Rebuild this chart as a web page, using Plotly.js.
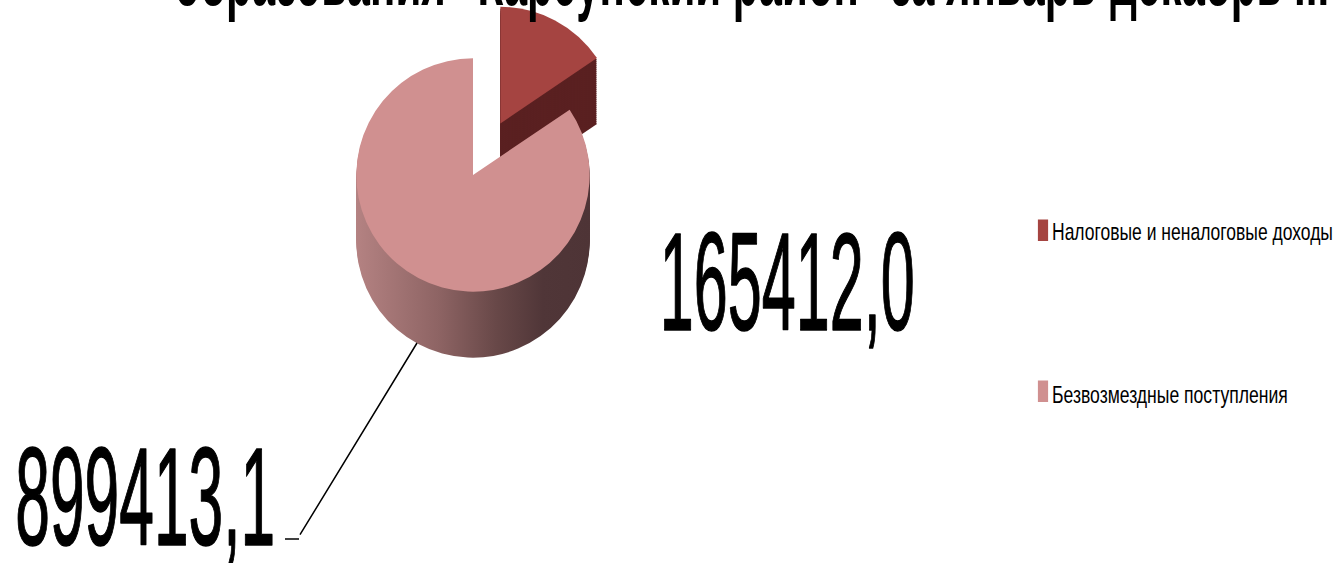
<!DOCTYPE html>
<html><head><meta charset="utf-8">
<script src="https://cdn.plot.ly/plotly-3.0.1.min.js"></script>
<style>html,body{margin:0;padding:0;background:#fff;overflow:hidden}</style>
</head><body>
<div id="chart" style="width:1339px;height:563px"></div>
<script>
// ---- data ----
const categories = ['Налоговые и неналоговые доходы', 'Безвозмездные поступления'];
const values = [165412.0, 899413.1];
const valueLabels = ['165412,0', '899413,1'];
const titleText = 'образования "Карсунский район" за январь-декабрь ...';

// ---- style / layout ----
const W = 1339, H = 563;
const topColors = ['#A54441', '#D09090'];
const sideColors = ['#5A2021', '#8A5E5E'];
const pulls = [0.5, 0];
const cx = 473, cy = 175, box = 350, depth = 66, steps = 33;

function dom(shift) {
  return {
    x: [(cx - box / 2) / W, (cx + box / 2) / W],
    y: [Math.max(0, 1 - (cy + box / 2 + shift) / H), Math.min(1, 1 - (cy - box / 2 + shift) / H)]
  };
}
function pad(s) { return '\u00a0<br>\u00a0<br>' + s + '<br>\u00a0<br>\u00a0'; }

const base = {
  type: 'pie', values: values, sort: false, direction: 'clockwise', rotation: 0,
  pull: pulls, textinfo: 'none', hoverinfo: 'none', showlegend: false
};
const traces = [];
for (let k = steps; k >= 1; k--) {
  traces.push(Object.assign({}, base, {
    labels: categories, domain: dom(depth * k / steps),
    marker: {colors: sideColors, line: {width: 0}}
  }));
}
traces.push(Object.assign({}, base, {
  labels: categories.map(pad), domain: dom(0), showlegend: true,
  marker: {colors: topColors, line: {width: 0}}
}));

const FONT = 'Liberation Sans, Arial, sans-serif';
const layout = {
  width: W, height: H,
  margin: {l: 0, r: 0, t: 0, b: 0, autoexpand: false},
  paper_bgcolor: '#fff',
  showlegend: true,
  legend: {x: 1023 / W, xanchor: 'left', y: 0.741, yanchor: 'top',
    font: {family: FONT, size: 24, color: '#000'},
    bgcolor: 'rgba(0,0,0,0)', borderwidth: 0, traceorder: 'normal'},
  annotations: [
    {text: titleText, xref: 'paper', yref: 'paper', x: 752 / W, y: 0.99,
     xanchor: 'center', yanchor: 'bottom', showarrow: false,
     font: {family: FONT, size: 80, color: '#000', weight: 'bold'}},
    {text: valueLabels[0], xref: 'paper', yref: 'paper', x: 787 / W, y: 1 - 280 / H,
     xanchor: 'center', yanchor: 'middle', showarrow: false,
     font: {family: FONT, size: 50, color: '#000'}},
    {text: valueLabels[1], xref: 'paper', yref: 'paper', x: 145 / W, y: 1 - 496 / H,
     xanchor: 'center', yanchor: 'middle', showarrow: false,
     font: {family: FONT, size: 50, color: '#000'}},
    {text: ' ', xref: 'paper', yref: 'paper', x: 417 / W, y: 1 - 343 / H,
     ax: -119, ay: 195, showarrow: true, arrowhead: 0, arrowwidth: 1.5, arrowcolor: '#000',
     standoff: 0, font: {size: 4}}
  ],
  shapes: [
    {type: 'line', xref: 'paper', yref: 'paper', x0: 285 / W, x1: 299 / W,
     y0: 1 - 539 / H, y1: 1 - 539 / H, line: {color: '#000', width: 1.5}}
  ]
};

// per-annotation text fitting: [target width, vertical scale, target baseline (px), stroke]
const annFit = [[1155, 1, 5, 0], [255, 2.79, 330, 1.2], [260, 2.79, 545, 1.2]];
const legWidths = [281, 236];

Plotly.newPlot('chart', traces, layout, {staticPlot: true}).then(function () {
  const ns = 'http://www.w3.org/2000/svg';
  const svg = document.querySelector('#chart .main-svg');
  let defs = svg.querySelector('defs');
  if (!defs) { defs = document.createElementNS(ns, 'defs'); svg.insertBefore(defs, svg.firstChild); }
  const lg = document.createElementNS(ns, 'linearGradient');
  lg.setAttribute('id', 'sideGrad');
  lg.setAttribute('x1', '0'); lg.setAttribute('y1', '0'); lg.setAttribute('x2', '1'); lg.setAttribute('y2', '0');
  [[0, '#B48282'], [0.35, '#8E6464'], [0.6, '#684848'], [0.8, '#503638'], [1, '#4E3436']].forEach(function (s) {
    const st = document.createElementNS(ns, 'stop');
    st.setAttribute('offset', s[0]); st.setAttribute('stop-color', s[1]);
    lg.appendChild(st);
  });
  defs.appendChild(lg);
  const tr = document.querySelectorAll('#chart .pielayer .trace');
  for (let i = 0; i < steps; i++) {
    const sl = tr[i].querySelectorAll('g.slice');
    if (sl[1]) { const p = sl[1].querySelector('path.surface'); if (p) p.style.fill = 'url(#sideGrad)'; }
  }
  // condensed / tall text (reference is horizontally squeezed)
  document.querySelectorAll('#chart g.annotation').forEach(function (g) {
    const idx = +g.getAttribute('data-index');
    if (idx >= annFit.length) return;
    const f = annFit[idx];
    const t = g.querySelector('text.annotation-text');
    if (!t) return;
    const bb = t.getBBox();
    const c = bb.x + bb.width / 2, sx = f[0] / bb.width, sy = f[1];
    let yb = parseFloat(t.getAttribute('y'));
    if (!isFinite(yb)) yb = bb.y + bb.height * 0.79;
    const m = t.parentNode.getScreenCTM();
    const svgM = svg.getScreenCTM();
    const baseScreen = (m.f - svgM.f) + m.d * yb;
    const dy = (f[2] - baseScreen) / m.d;
    const tf = 'translate(0,' + dy + ') translate(' + c + ',' + yb + ') scale(' + sx + ',' + sy + ') translate(' + (-c) + ',' + (-yb) + ')';
    t.setAttribute('transform', tf);
    const r = t.parentNode.querySelector('rect.bg');
    if (r) r.setAttribute('transform', tf);
    if (f[3]) {
      t.style.stroke = '#000';
      t.style.strokeWidth = f[3] + 'px';
      t.style.strokeLinejoin = 'round';
      t.style.vectorEffect = 'non-scaling-stroke';
    }
  });
  document.querySelectorAll('#chart .legend .traces').forEach(function (g, i) {
    const t = g.querySelector('text.legendtext');
    if (t) {
      const x0 = parseFloat(t.getAttribute('x')) || 40;
      const bb = t.getBBox();
      const s = legWidths[i] / bb.width;
      const dy = i === 1 ? 4 : 0;
      t.setAttribute('transform', 'translate(' + (x0 - 11) + ',' + dy + ') scale(' + s + ',1) translate(' + (-x0) + ',0)');
    }
    const p = g.querySelector('path.legendpie');
    if (p) p.setAttribute('transform', (p.getAttribute('transform') || '') + (i === 1 ? ' translate(0,2)' : '') + ' scale(0.85,1.8)');
  });
});
</script>
</body></html>
